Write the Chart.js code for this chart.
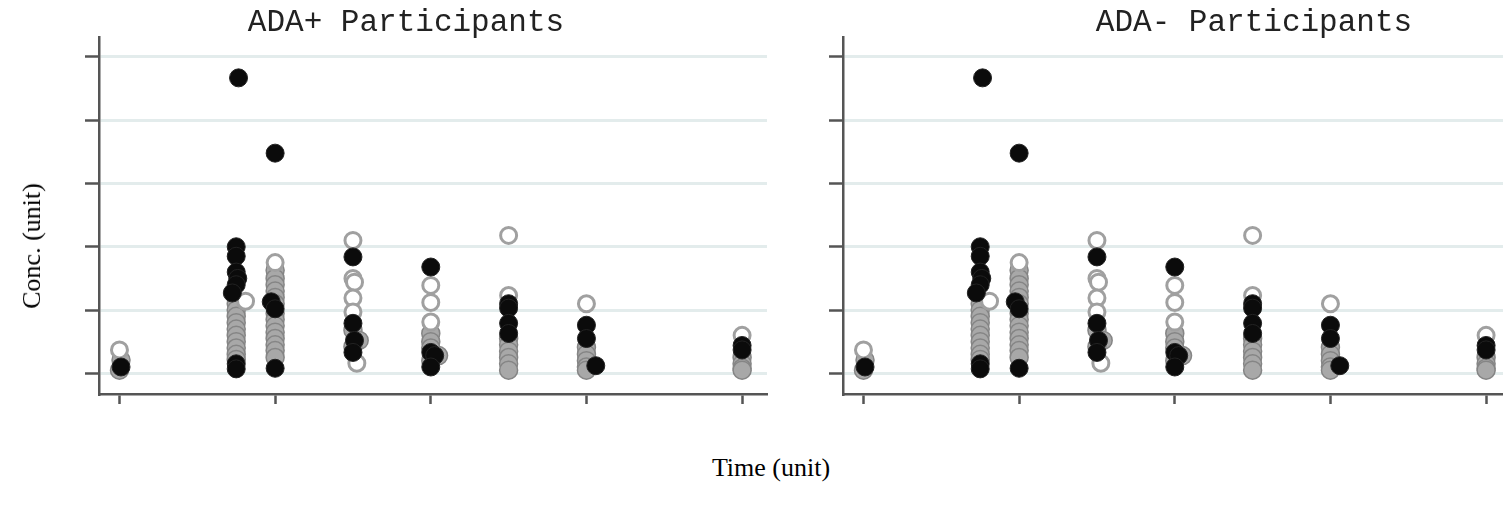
<!DOCTYPE html>
<html>
<head>
<meta charset="utf-8">
<script src="https://cdn.jsdelivr.net/npm/chart.js@4.4.1/dist/chart.umd.min.js"></script>
<style>
  html, body { margin: 0; padding: 0; background: #fff; overflow: hidden; }
  body { width: 1503px; height: 513px; position: relative; }
  .panel { position: absolute; top: 0; }
  .panel-title { position: absolute; width: 420px; text-align: center; font-family: "Liberation Mono", monospace; font-size: 31px; line-height: 31px; color: #222; white-space: pre; }
  .axis-label { position: absolute; font-family: "Liberation Serif", serif; font-size: 26px; line-height: 26px; color: #000; white-space: nowrap; }
</style>
</head>
<body>
<div class="panel" style="left:0px"><canvas id="plusChart" width="780" height="420"></canvas></div>
<div class="panel" style="left:744px"><canvas id="minusChart" width="780" height="420"></canvas></div>
<div class="panel-title" style="left:196px; top:7px">ADA+ Participants</div>
<div class="panel-title" style="left:1044px; top:7px">ADA- Participants</div>
<div class="axis-label" style="left:32px; top:246px; transform: translate(-50%,-50%) rotate(-90deg)">Conc. (unit)</div>
<div class="axis-label" style="left:771px; top:455px; transform: translateX(-50%)">Time (unit)</div>

<script>
// tick positions (no labels are printed in the picture)
const timeTicks = [0, 2, 4, 6, 8];
const concTicks = [0, 1, 2, 3, 4, 5];

// [time, conc] - both panels show the same points
const blackPoints = [
    [0.02, 0.1],
    [1.53, 4.67], [1.5, 2.0], [1.5, 1.85], [1.5, 1.6], [1.52, 1.5], [1.5, 1.4], [1.45, 1.27], [1.5, 0.15], [1.5, 0.07],
    [2.0, 3.48], [1.95, 1.13], [2.0, 1.02], [2.0, 0.08],
    [3.0, 1.84], [3.0, 0.79], [3.02, 0.52], [3.0, 0.33],
    [4.0, 1.68], [4.0, 0.33], [4.05, 0.28], [4.0, 0.1],
    [5.0, 1.1], [5.0, 1.03], [5.0, 0.79], [5.0, 0.63],
    [6.0, 0.76], [6.0, 0.55], [6.12, 0.12],
    [8.0, 0.44], [8.0, 0.37]
];
const grayPoints = [
    [0.02, 0.21], [0.0, 0.05],
    [1.5, 1.1], [1.5, 1.0], [1.5, 0.9], [1.5, 0.8], [1.5, 0.7], [1.5, 0.6], [1.5, 0.5], [1.5, 0.4], [1.5, 0.3], [1.5, 0.22],
    [2.0, 1.63], [2.0, 1.5], [2.0, 1.4], [2.0, 1.3], [2.0, 1.2], [2.0, 1.1], [2.0, 0.95], [2.0, 0.85], [2.0, 0.75],
    [2.0, 0.65], [2.0, 0.55], [2.0, 0.45], [2.0, 0.36], [2.0, 0.25],
    [3.0, 0.68], [3.08, 0.52], [3.0, 0.42],
    [4.0, 0.63], [4.0, 0.5], [4.0, 0.4], [4.1, 0.28], [4.0, 0.2],
    [5.0, 0.55], [5.0, 0.45], [5.0, 0.35], [5.0, 0.25], [5.0, 0.15], [5.0, 0.05],
    [6.0, 0.41], [6.0, 0.3], [6.0, 0.2], [6.0, 0.1], [6.0, 0.05],
    [8.0, 0.25], [8.0, 0.15], [8.0, 0.08], [8.0, 0.05]
];
const openPoints = [
    [0.0, 0.37],
    [1.62, 1.14],
    [2.0, 1.75],
    [3.0, 2.1], [3.0, 1.5], [3.02, 1.44], [3.0, 1.19], [3.0, 0.97], [3.05, 0.16],
    [4.0, 1.39], [4.0, 1.12], [4.0, 0.81],
    [5.0, 2.18], [5.0, 1.23],
    [6.0, 1.1],
    [8.0, 0.6]
];

function toXY(points) {
    return points.map(p => ({ x: p[0], y: p[1] }));
}

function makePanel(id) {
    const ctx = document.getElementById(id).getContext("2d");
    new Chart(ctx, {
        type: "scatter",
        data: {
            datasets: [
                {
                    label: "black",
                    data: toXY(blackPoints),
                    backgroundColor: "#0b0b0b",
                    borderColor: "#222",
                    borderWidth: 1,
                    pointRadius: 9
                },
                {
                    label: "open",
                    data: toXY(openPoints),
                    backgroundColor: "#ffffff",
                    borderColor: "#a0a0a0",
                    borderWidth: 3,
                    pointRadius: 8
                },
                {
                    label: "gray",
                    data: toXY(grayPoints),
                    backgroundColor: "#a8a8a8",
                    borderColor: "#858585",
                    borderWidth: 1.5,
                    pointRadius: 9
                }
            ]
        },
        options: {
            responsive: false,
            animation: false,
            layout: { padding: { left: 85, top: 37, right: 13, bottom: 16 } },
            plugins: { legend: { display: false }, tooltip: { enabled: false } },
            scales: {
                x: {
                    type: "linear",
                    min: -0.263,
                    max: 8.32,
                    afterBuildTicks: axis => { axis.ticks = timeTicks.map(v => ({ value: v })); },
                    ticks: { display: false },
                    grid: { drawOnChartArea: false, drawTicks: true, tickLength: 10, tickColor: "#555", tickWidth: 2.5 },
                    border: { color: "#555", width: 2.5 }
                },
                y: {
                    min: -0.327,
                    max: 5.316,
                    afterBuildTicks: axis => { axis.ticks = concTicks.map(v => ({ value: v })); },
                    ticks: { display: false },
                    grid: { color: "#e3ecec", lineWidth: 3, drawTicks: true, tickLength: 14, tickColor: "#555", tickWidth: 2.5 },
                    border: { color: "#555", width: 2.5 }
                }
            }
        }
    });
}

makePanel("plusChart");
makePanel("minusChart");
</script>
</body>
</html>
